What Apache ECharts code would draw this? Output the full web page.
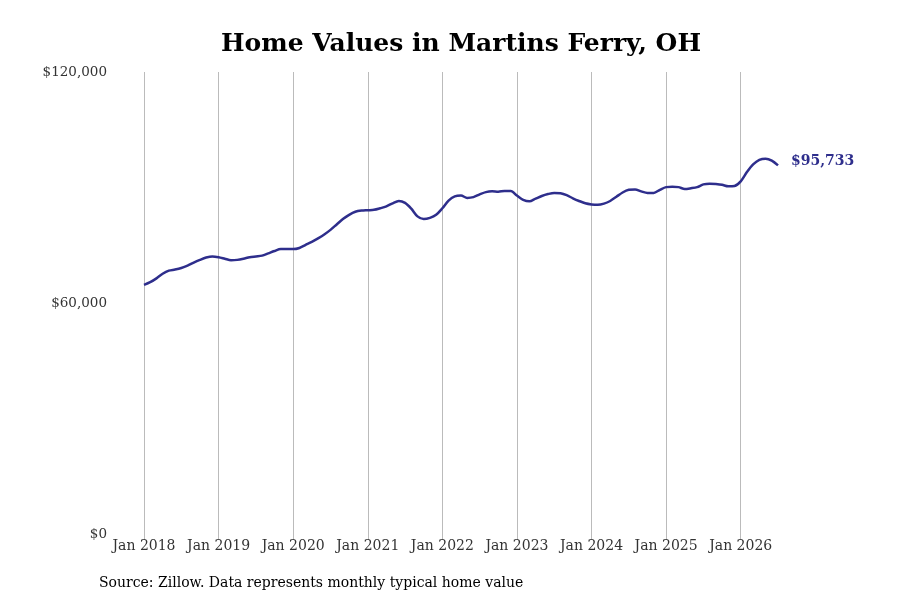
<!DOCTYPE html>
<html>
	<head>
		<meta charset="utf-8">
		<title>Home Values in Martins Ferry, OH</title>
		<script type="text/javascript" src="https://cdn.jsdelivr.net/npm/echarts@6/dist/echarts.min.js"></script>
		<style>
			html, body { margin: 0; padding: 0; background: #fff; }
		</style>
	</head>
	<body>
		<div id="chart" style="width:900px;height:600px;"></div>
		<script type="text/javascript">
			// 数据：2018年1月 - 2026年7月 月度典型房价（单位：千美元，从图上读取）
			var startYear = 2018;
			var homeValues = [
				64.7, 65.4, 66.4, 67.6, 68.4, 68.7, 69.1, 69.7, 70.5, 71.2, 71.8, 72.1,
				71.9, 71.5, 71.1, 71.2, 71.5, 71.9, 72.1, 72.3, 72.9, 73.5, 74.0, 74.0,
				74.0, 74.3, 75.1, 75.9, 76.8, 77.8, 79.0, 80.4, 81.8, 82.9, 83.7, 84.0,
				84.1, 84.2, 84.6, 85.1, 85.9, 86.5, 86.0, 84.5, 82.5, 81.8, 82.1, 82.9,
				84.6, 86.6, 87.7, 87.9, 87.3, 87.5, 88.2, 88.8, 89.0, 88.9, 89.1, 89.1,
				87.9, 86.8, 86.4, 87.1, 87.8, 88.3, 88.6, 88.5, 88.0, 87.2, 86.5, 85.9,
				85.6, 85.5, 85.8, 86.5, 87.6, 88.7, 89.4, 89.5, 89.0, 88.6, 88.6, 89.4,
				90.1, 90.2, 90.1, 89.6, 89.8, 90.1, 90.8, 91.0, 90.9, 90.7, 90.3, 90.4,
				91.6, 94.0, 96.0, 97.2, 97.5, 97.0, 95.733
			];
			var yTicks = [0, 60000, 120000];
			var monthNames = ['Jan', 'Feb', 'Mar', 'Apr', 'May', 'Jun', 'Jul', 'Aug', 'Sep', 'Oct', 'Nov', 'Dec'];

			var months = homeValues.map(function(v, i) {
				return monthNames[i % 12] + ' ' + (startYear + Math.floor(i / 12));
			});
			var values = homeValues.map(function(v) { return Math.round(v * 1000); });

			function fmtMoney(v) {
				return '$' + v.toLocaleString('en-US');
			}

			var font = '"DejaVu Serif", "Liberation Serif", serif';
			var myChart = echarts.init(document.getElementById('chart'));
			var option = {
				backgroundColor: '#fff',
				title: {
					text: 'Home Values in Martins Ferry, OH',
					left: 456,
					top: 27,
					textAlign: 'center',
					textStyle: {
						fontFamily: font,
						fontWeight: 'bold',
						fontSize: 25,
						color: '#000'
					}
				},
				grid: {
					left: 144,
					right: 122,
					top: 72,
					bottom: 66
				},
				xAxis: {
					type: 'category',
					data: months,
					boundaryGap: false,
					axisLine: { show: false },
					axisTick: {
						show: true,
						length: 6,
						interval: function(i) { return i % 12 === 0; },
						lineStyle: { color: '#bbb' }
					},
					axisLabel: {
						interval: function(i) { return i % 12 === 0; },
						fontFamily: font,
						fontSize: 14,
						color: '#333',
						margin: 5
					},
					splitLine: {
						show: true,
						interval: function(i) { return i % 12 === 0; },
						lineStyle: { color: '#bbb', width: 1 }
					}
				},
				yAxis: {
					type: 'value',
					min: yTicks[0],
					max: yTicks[yTicks.length - 1],
					interval: yTicks[1] - yTicks[0],
					axisLine: { show: false },
					axisTick: { show: false },
					splitLine: { show: false },
					axisLabel: {
						fontFamily: font,
						fontSize: 13.5,
						color: '#333',
						margin: 37,
						padding: [4, 0, 0, 0],
						formatter: fmtMoney
					}
				},
				series: [{
					name: 'Home Value',
					type: 'line',
					data: values,
					smooth: 0.3,
					symbol: 'none',
					lineStyle: { color: '#2e2e8c', width: 2.5 },
					endLabel: {
						show: true,
						formatter: function(p) { return fmtMoney(p.value); },
						fontFamily: font,
						fontWeight: 'bold',
						fontSize: 14,
						color: '#2e2e8c',
						distance: 13,
						offset: [0, -4]
					}
				}],
				graphic: [{
					type: 'text',
					left: 99,
					top: 576,
					style: {
						text: 'Source: Zillow. Data represents monthly typical home value',
						font: '14px ' + font,
						fill: '#000'
					}
				}]
			};
			myChart.setOption(option);
		</script>
	</body>
</html>
